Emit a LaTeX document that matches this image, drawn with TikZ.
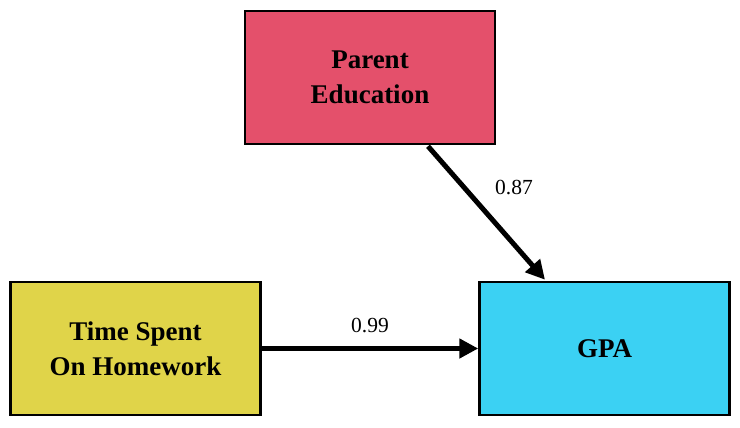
\documentclass[tikz,border=0pt]{standalone}
\usepackage{fontspec}
\setmainfont{Liberation Serif}
\usetikzlibrary{arrows.meta,calc}
\definecolor{pecol}{HTML}{E4506B}
\definecolor{hwcol}{HTML}{E0D449}
\definecolor{gpacol}{HTML}{3BD1F3}
\begin{document}
\begin{tikzpicture}[x=1pt,y=-1pt,
  varbox/.style={draw=black,line width=2.5pt,minimum width=250pt,minimum height=133pt,
    align=center,inner sep=0pt,font=\fontsize{27}{35}\selectfont\bfseries},
  path/.style={line width=5pt,-{Triangle[length=19pt,width=19pt]}},
  coef/.style={font=\fontsize{21.5}{22}\selectfont,inner sep=0pt}]
\useasboundingbox (0,0) rectangle (740,428);
\node[varbox,fill=pecol] (pe) at (370,77.5) {Parent\\Education};
\node[varbox,fill=hwcol] (hw) at (135.5,348.5) {Time Spent\\On Homework};
\node[varbox,fill=gpacol] (gpa) at (604.5,348.5) {GPA};
\coordinate (pes) at ($(pe.south)+(58,1)$);
\coordinate (gpan) at ($(gpa.north)+(-59.5,-1)$);
\draw[path] (pes) -- (gpan);
\draw[path] (hw.east) -- (gpa.west);
\node[coef] (c1) at (514,188) {0.87};
\node[coef] (c2) at (370,326) {0.99};
\end{tikzpicture}
\end{document}
